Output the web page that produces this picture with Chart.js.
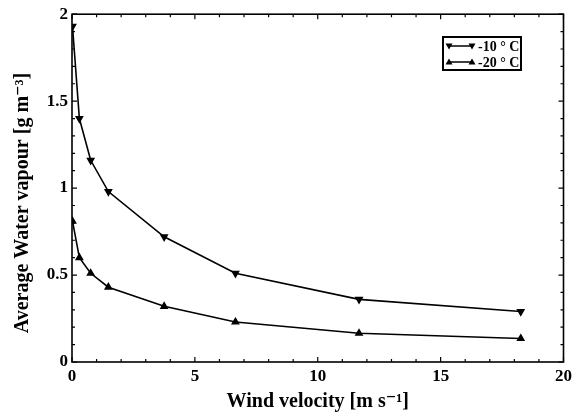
<!DOCTYPE html>
<html>
<head>
<meta charset="utf-8">
<script src="https://cdn.jsdelivr.net/npm/chart.js@4"></script>
<style>
html,body{margin:0;padding:0;background:#fff;}
#wrap{width:576px;height:414px;}
</style>
</head>
<body>
<div id="wrap"><canvas id="c" width="576" height="414"></canvas></div>
<script>
const windSpeed = [0.02, 0.3, 0.76, 1.48, 3.75, 6.65, 11.68, 18.26];
const vapourMinus10 = [1.93, 1.40, 1.16, 0.98, 0.72, 0.51, 0.36, 0.29];
const vapourMinus20 = [0.81, 0.60, 0.51, 0.43, 0.32, 0.23, 0.165, 0.135];
const seriesLabels = ['-10 \u00B0 C', '-20 \u00B0 C'];
const xTitle = 'Wind velocity [m s\u207B\u00B9]';
const yTitle = 'Average Water vapour [g m\u207B\u00B3]';

const serif = '"Liberation Serif", "DejaVu Serif", serif';

const frameTicks = {
  id: 'frameTicks',
  afterDraw(chart) {
    const ctx = chart.ctx, a = chart.chartArea;
    const xs = chart.scales.x, ys = chart.scales.y;
    ctx.save();
    ctx.strokeStyle = '#000';
    ctx.lineWidth = 1.6;
    ctx.strokeRect(a.left, a.top, a.right - a.left, a.bottom - a.top);
    ctx.lineWidth = 1.2;
    ctx.beginPath();
    for (let v = 0; v <= 20; v += 1) {
      const p = xs.getPixelForValue(v);
      const len = (v % 5 === 0) ? 5 : 3;
      ctx.moveTo(p, a.bottom); ctx.lineTo(p, a.bottom - len);
      ctx.moveTo(p, a.top); ctx.lineTo(p, a.top + len);
    }
    for (let i = 0; i <= 20; i++) {
      const v = i / 10;
      const p = ys.getPixelForValue(v);
      const len = (i % 5 === 0) ? 5 : 3;
      ctx.moveTo(a.left, p); ctx.lineTo(a.left + len, p);
      ctx.moveTo(a.right, p); ctx.lineTo(a.right - len, p);
    }
    ctx.stroke();

    // y-axis title (placed as in the reference, slightly below plot centre)
    ctx.save();
    ctx.translate(23, 203);
    ctx.rotate(-Math.PI / 2);
    ctx.font = 'bold 20px ' + serif;
    ctx.fillStyle = '#000';
    ctx.textAlign = 'center';
    ctx.textBaseline = 'middle';
    ctx.fillText(yTitle, 0, 0);
    ctx.restore();

    // legend box
    const bx = 443, by = 37, bw = 78, bh = 33;
    ctx.fillStyle = '#fff';
    ctx.fillRect(bx, by, bw, bh);
    ctx.lineWidth = 2;
    ctx.strokeRect(bx, by, bw, bh);
    const rows = [46, 62];
    const rots = [Math.PI, 0];
    ctx.fillStyle = '#000';
    rows.forEach((y, i) => {
      ctx.lineWidth = 1.5;
      ctx.beginPath(); ctx.moveTo(448, y); ctx.lineTo(473, y); ctx.stroke();
      [449, 472].forEach(x => {
        ctx.save(); ctx.translate(x, y); ctx.rotate(rots[i]);
        ctx.beginPath(); ctx.moveTo(0, -3.5); ctx.lineTo(3.5, 2.5); ctx.lineTo(-3.5, 2.5); ctx.closePath(); ctx.fill();
        ctx.restore();
      });
      ctx.font = 'bold 14px ' + serif;
      ctx.textBaseline = 'middle';
      ctx.textAlign = 'left';
      ctx.fillText(seriesLabels[i], 478, y + 1);
    });
    ctx.restore();
  }
};

new Chart(document.getElementById('c'), {
  type: 'line',
  data: {
    datasets: [
      {
        label: seriesLabels[0],
        data: windSpeed.map((x, i) => ({x, y: vapourMinus10[i]})),
        borderColor: '#000', backgroundColor: '#000', borderWidth: 1.6,
        pointStyle: 'triangle', rotation: 180, pointRadius: 3.5, pointHoverRadius: 3.5,
        tension: 0
      },
      {
        label: seriesLabels[1],
        data: windSpeed.map((x, i) => ({x, y: vapourMinus20[i]})),
        borderColor: '#000', backgroundColor: '#000', borderWidth: 1.6,
        pointStyle: 'triangle', pointRadius: 3.5, pointHoverRadius: 3.5,
        tension: 0
      }
    ]
  },
  options: {
    responsive: false,
    animation: false,
    layout: { padding: { top: 12, right: 9, left: 0, bottom: 0 } },
    plugins: { legend: { display: false }, tooltip: { enabled: false } },
    scales: {
      x: {
        type: 'linear', min: 0, max: 20,
        grid: { display: false, drawTicks: false },
        border: { display: false },
        ticks: { stepSize: 5, color: '#000', padding: 4, font: { family: serif, size: 17, weight: 'bold' } },
        title: { display: true, text: xTitle, color: '#000', padding: { top: 0, bottom: 0 }, font: { family: serif, size: 20, weight: 'bold' } },
        afterFit(s) { s.height = 52; }
      },
      y: {
        type: 'linear', min: 0, max: 2,
        grid: { display: false, drawTicks: false },
        border: { display: false },
        ticks: { stepSize: 0.5, color: '#000', padding: 4, font: { family: serif, size: 17, weight: 'bold' },
          callback: v => String(v) },
        title: { display: false, text: yTitle },
        afterFit(s) { s.width = 72; }
      }
    }
  },
  plugins: [frameTicks]
});
</script>
</body>
</html>
